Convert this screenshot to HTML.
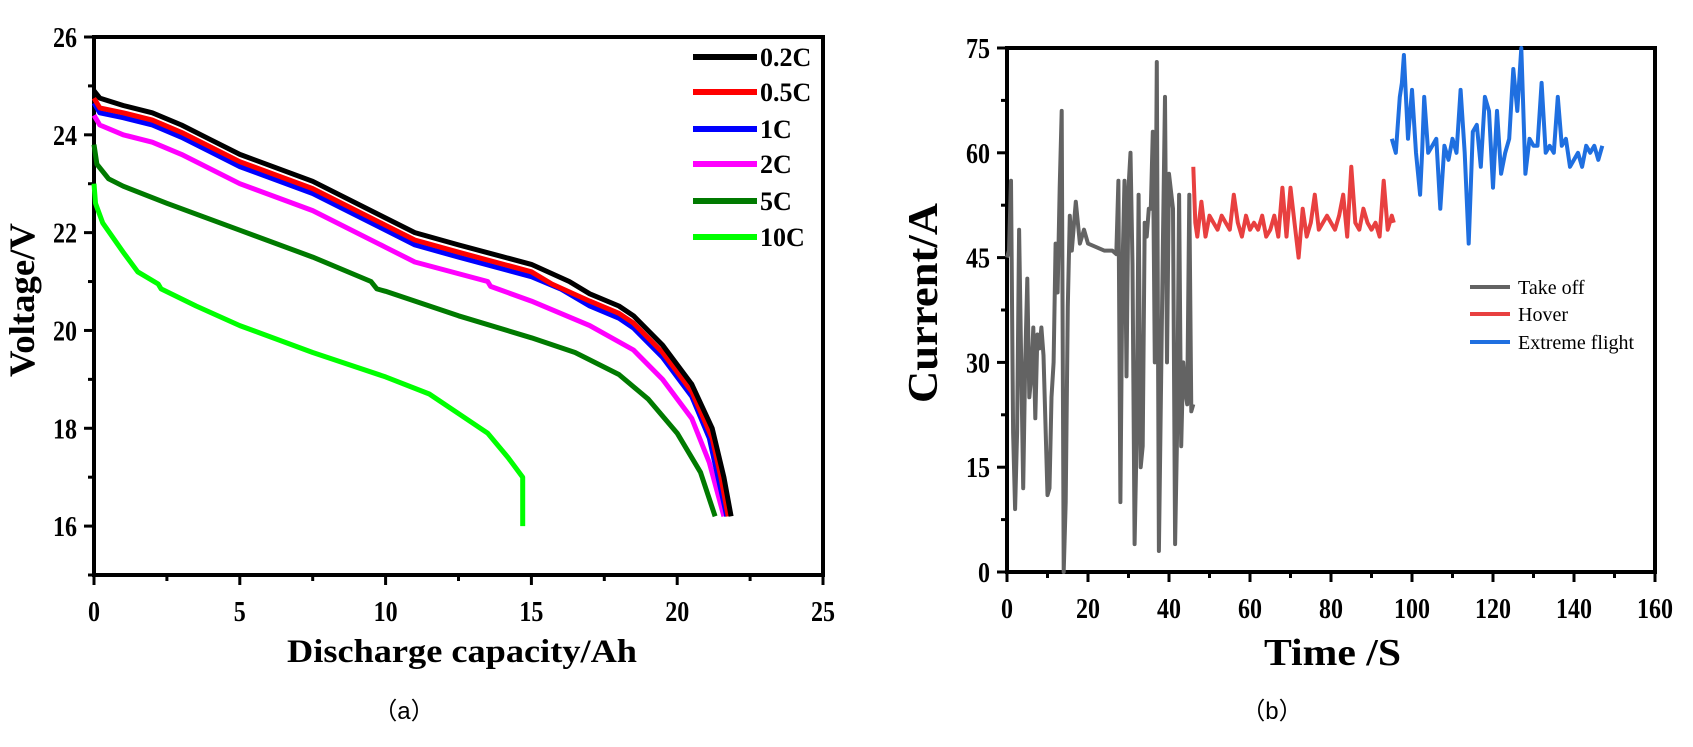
<!DOCTYPE html>
<html><head><meta charset="utf-8"><style>
body{margin:0;background:#fff;}
svg{display:block;font-family:"Liberation Serif",serif;}
.tk{font-weight:bold;font-size:28px;}
</style></head><body>
<svg id="s" width="1693" height="747" viewBox="0 0 1693 747" xmlns="http://www.w3.org/2000/svg"></svg>
<script>
// ---- Chart (a) data ----
const capNames = ['0.2C','0.5C','1C','2C','5C','10C'];
const capColors = ['#000000','#ff0000','#0000ff','#ff00ff','#007a00','#00ff00'];
const cap02X = [0,0.2,1,2,3,4,5,7.5,10,11,12.5,15,16.3,17,18,18.5,19.5,20.5,21.2,21.6,21.85];
const cap02Y = [24.9,24.75,24.6,24.45,24.2,23.9,23.6,23.05,22.3,22.0,21.75,21.35,21.0,20.75,20.5,20.3,19.7,18.9,18.0,17.0,16.2];
const cap05X = [0,0.2,1,2,3,4,5,7.5,10,11,12.5,15,15.7,17,18,18.5,19.5,20.5,21.2,21.5,21.75];
const cap05Y = [24.75,24.55,24.45,24.3,24.05,23.75,23.45,22.9,22.15,21.85,21.6,21.2,20.95,20.6,20.35,20.15,19.55,18.75,17.8,17.0,16.2];
const cap1X = [0,0.2,1,2,3,4,5,7.5,10,11,12.5,15,16,17,18,18.5,19.5,20.5,21.1,21.4,21.7];
const cap1Y = [24.65,24.45,24.35,24.2,23.95,23.65,23.35,22.8,22.05,21.75,21.5,21.1,20.85,20.5,20.25,20.05,19.45,18.65,17.8,17.0,16.2];
const cap2X = [0,0.2,1,2,3,5,7.5,10,11,13.5,13.6,15,17,18.5,19.5,20.5,21.1,21.6];
const cap2Y = [24.4,24.2,24.0,23.85,23.6,23.0,22.45,21.7,21.4,21.0,20.9,20.6,20.1,19.6,19.0,18.2,17.3,16.2];
const cap5X = [0,0.1,0.5,1,2.5,5,7.5,9.5,9.7,10,12.5,15,16.5,18,19,20,20.8,21.3];
const cap5Y = [23.8,23.4,23.1,22.95,22.6,22.05,21.5,21.0,20.85,20.8,20.3,19.85,19.55,19.1,18.6,17.9,17.1,16.2];
const cap10X = [0,0.05,0.3,1,1.5,2.2,2.3,3.5,5,7.5,10,11.5,12.5,13.5,14.2,14.7,14.7];
const cap10Y = [23.0,22.6,22.2,21.6,21.2,20.95,20.85,20.5,20.1,19.55,19.05,18.7,18.3,17.9,17.4,17.0,16.0];
const capXTicks = [0,5,10,15,20,25];
const capYTicks = [16,18,20,22,24,26];

// ---- Chart (b) data ----
const segNames = ['Take off','Hover','Extreme flight'];
const segColors = ['#636363','#e84040','#1f6fe0'];
const toT = [0,0.5,1,1.5,2,2.5,3,3.5,4,4.5,5,5.5,6,6.5,7,7.5,8,8.5,9,10,10.5,11,11.5,12,12.5,13,13.5,14,14.5,15,15.5,16,17,18,19,20,22,24,26,27,27.5,28,28.5,29,29.5,30,30.5,31,31.5,32,32.5,33,33.5,34,34.5,35,35.5,36,36.5,37,37.5,38,38.5,39,39.5,40,41,41.5,42,42.5,43,43.5,44,44.5,45,45.5,46];
const toI = [45,46,56,20,9,20,49,30,12,30,42,25,28,35,22,34,32,35,31,11,12,25,30,47,40,55,66,0,10,38,51,46,53,47,49,47,46.5,46,46,45.5,56,10,43,56,28,55,60,44,4,19,54,15,18,50,48,52,52,63,30,73,3,25,47,68,30,57,52,4,20,54,18,30,26,24,54,23,24];
const hvT = [46,46.5,47,48,49,50,51,52,53,54,55,56,57,58,59,60,61,62,63,64,65,66,67,68,69,70,71,72,73,74,75,76,77,78,79,80,81,82,83,84,85,86,87,88,89,90,91,92,93,94,95,95.5];
const hvI = [58,50,48,53,48,51,50,49,51,50,49,54,50,48,51,49,50,49,51,48,49,51,48,55,48,55,50,45,52,48,50,54,49,50,51,50,49,51,54,48,58,50,49,52,50,49,50,48,56,49,51,50];
const exT = [95,96,97,97.5,98,99,100,101,102,102.5,103,104,105,106,107,108,109,110,111,112,113,114,115,116,117,118,119,120,121,122,123,124,125,126,127,128,129,130,131,132,133,134,135,136,137,138,139,140,141,142,143,144,145,146,147];
const exI = [62,60,68,70,74,62,69,60,54,60,68,60,61,62,52,61,59,62,60,69,60,47,63,64,58,68,66,55,66,57,60,62,72,66,75,57,62,61,61,70,60,61,60,68,61,62,58,59,60,58,61,60,61,59,61];
const curXTicks = [0,20,40,60,80,100,120,140,160];
const curYTicks = [0,15,30,45,60,75];

const NS='http://www.w3.org/2000/svg';
const svg=document.getElementById('s');
function mk(tag,attrs,parent){const e=document.createElementNS(NS,tag);for(const k in attrs)e.setAttribute(k,attrs[k]);(parent||svg).appendChild(e);return e;}

const ax={l:94,r:823,t:37,b:575,x0:0,x1:25,y0:15,y1:26};
const bx={l:1007,r:1655,t:48,b:572,x0:0,x1:160,y0:0,y1:75};
function sx(a,v){return a.l+(v-a.x0)/(a.x1-a.x0)*(a.r-a.l);}
function sy(a,v){return a.b-(v-a.y0)/(a.y1-a.y0)*(a.b-a.t);}

function frame(a,name,xt,yt,xminor,yminor){
  const g=mk('g',{});
  
  
  const r=mk('rect',{x:a.l,y:a.t,width:a.r-a.l,height:a.b-a.t,fill:'none',stroke:'#000','stroke-width':4},g);
  
  
  xt.forEach((v,i)=>{
    const x=sx(a,v);
    mk('line',{x1:x,x2:x,y1:a.b,y2:a.b+10,stroke:'#000','stroke-width':3},g);
    const s=String(v);
    const t=mk('text',{x:x,y:a.b+46,'text-anchor':'middle',class:'tk',textLength:s.length*12,lengthAdjust:'spacingAndGlyphs'},g);
    t.textContent=s;
    
    
    if(i<xt.length-1){const m=sx(a,v+xminor);mk('line',{x1:m,x2:m,y1:a.b,y2:a.b+6,stroke:'#000','stroke-width':3},g);}
  });
  yt.forEach((v,i)=>{
    const y=sy(a,v);
    mk('line',{x1:a.l-10,x2:a.l,y1:y,y2:y,stroke:'#000','stroke-width':3},g);
    const s=String(v);
    const t=mk('text',{x:a.l-17,y:y+10,'text-anchor':'end',class:'tk',textLength:s.length*12,lengthAdjust:'spacingAndGlyphs'},g);
    t.textContent=s;
    
    
    const m=sy(a,v+yminor), m2=sy(a,v-yminor);
    if(i<yt.length-1) mk('line',{x1:a.l-6,x2:a.l,y1:m,y2:m,stroke:'#000','stroke-width':3},g);
    if(i==0 && v-yminor>=a.y0) mk('line',{x1:a.l-6,x2:a.l,y1:m2,y2:m2,stroke:'#000','stroke-width':3},g);
  });
}
frame(ax,'voltage-chart',capXTicks,capYTicks,2.5,1);
frame(bx,'current-chart',curXTicks,curYTicks,10,7.5);

function line(a,xs,ys,color,w,name){
  const d=xs.map((x,i)=>(i?'L':'M')+sx(a,x).toFixed(1)+','+sy(a,ys[i]).toFixed(1)).join('');
  const p=mk('path',{d:d,fill:'none',stroke:color,'stroke-width':w,'stroke-linejoin':'round'});
  
  
}
const capX=[cap02X,cap05X,cap1X,cap2X,cap5X,cap10X], capY=[cap02Y,cap05Y,cap1Y,cap2Y,cap5Y,cap10Y];
for(let i=5;i>=0;i--) line(ax,capX[i],capY[i],capColors[i],5,'curve-'+capNames[i]);
line(bx,toT,toI,segColors[0],4,'series-take-off');
line(bx,hvT,hvI,segColors[1],4,'series-hover');
line(bx,exT,exI,segColors[2],4,'series-extreme-flight');

const lgY=[57,92,129,164,201,237];
capNames.forEach((n,i)=>{
  const l=mk('line',{x1:693,x2:757,y1:lgY[i],y2:lgY[i],stroke:capColors[i],'stroke-width':6});
  
  
  const t=mk('text',{x:760,y:lgY[i]+9,'font-weight':'bold','font-size':'26px'});
  t.textContent=n;
  
  
});
const lgY2=[287,314,342];
segNames.forEach((n,i)=>{
  const l=mk('line',{x1:1470,x2:1510,y1:lgY2[i],y2:lgY2[i],stroke:segColors[i],'stroke-width':4});
  
  
  const t=mk('text',{x:1518,y:lgY2[i]+7,'font-size':'20px'});
  t.textContent=n;
  
  
});

function txt(s,attrs,name){const t=mk('text',attrs);t.textContent=s;return t;}
txt('Discharge capacity/Ah',{x:287,y:662,'font-weight':'bold','font-size':'33px',textLength:350,lengthAdjust:'spacingAndGlyphs'},'x-axis-title-a');
txt('Voltage/V',{x:0,y:0,'font-weight':'bold','font-size':'36px',textLength:154,lengthAdjust:'spacingAndGlyphs',transform:'translate(34,377) rotate(-90)'},'y-axis-title-a');
txt('Time /S',{x:1264,y:665,'font-weight':'bold','font-size':'38px',textLength:137,lengthAdjust:'spacingAndGlyphs'},'x-axis-title-b');
txt('Current/A',{x:0,y:0,'font-weight':'bold','font-size':'42px',textLength:200,lengthAdjust:'spacingAndGlyphs',transform:'translate(937,403) rotate(-90)'},'y-axis-title-b');
txt('（a）',{x:404,y:719,'text-anchor':'middle','font-size':'24px','font-family':'"Liberation Sans","Noto Sans CJK SC",sans-serif'},'caption-a');
txt('（b）',{x:1272,y:719,'text-anchor':'middle','font-size':'24px','font-family':'"Liberation Sans","Noto Sans CJK SC",sans-serif'},'caption-b');
</script>
</body></html>
